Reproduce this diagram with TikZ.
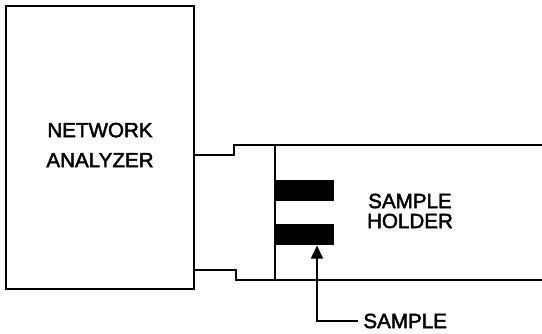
\documentclass[tikz,border=0pt]{standalone}
\usepackage{fontspec}
\setmainfont{Liberation Sans}[RawFeature={embolden=2.2}]
\usepackage{xcolor}
\usetikzlibrary{arrows.meta,positioning,calc}
\tikzset{
  wire/.style={black, line width=0.8pt},
  pa/.style={-{Triangle[length=6.5pt,width=6pt]}, wire},
  lbl/.style={font=\fontsize{10.3}{15}\selectfont, align=center, inner sep=0pt},
  analyzerbox/.style={draw, line width=0.8pt, minimum width=94pt, minimum height=141.5pt, inner sep=0pt},
  sampleblock/.style={fill=black, anchor=north west, minimum width=29.5pt, minimum height=10.5pt, inner sep=0pt},
}
\begin{document}
\begin{tikzpicture}[x=0.5pt,y=-0.5pt,>=Stealth]
  \useasboundingbox (0,0) rectangle (542,333);
  \node[analyzerbox] (analyzer) at (100,147.5){};
  \node[lbl] (analyzerlbl) at (100,145){NETWORK\\ANALYZER};
  % holder outline
  \coordinate (stepup) at (234,155);
  \coordinate (stepdn) at (236,270);
  \coordinate (topend) at (542,145);
  \coordinate (botend) at (542,280);
  \coordinate (walltop) at (275,145);
  \coordinate (wallbot) at (275,280);
  \draw[wire] (analyzer.east |- stepup) -- (stepup) -- (stepup |- topend) -- (topend);
  \draw[wire] (analyzer.east |- stepdn) -- (stepdn) -- (stepdn |- botend) -- (botend);
  \draw[wire] (walltop) -- (wallbot);
  \node[sampleblock] (sampletop) at (275,180){};
  \node[sampleblock] (samplebot) at (275,224){};
  \node[lbl,font=\fontsize{10.3}{10}\selectfont] (holderlbl) at (410,211){SAMPLE\\HOLDER};
  % pointer
  \node[lbl,anchor=west] (samplelbl) at (363,321){SAMPLE};
  \coordinate (sampletip) at (317,245.5);
  \draw[pa] (samplelbl.west) ++(-5,0) -| (sampletip);
\end{tikzpicture}
\end{document}
